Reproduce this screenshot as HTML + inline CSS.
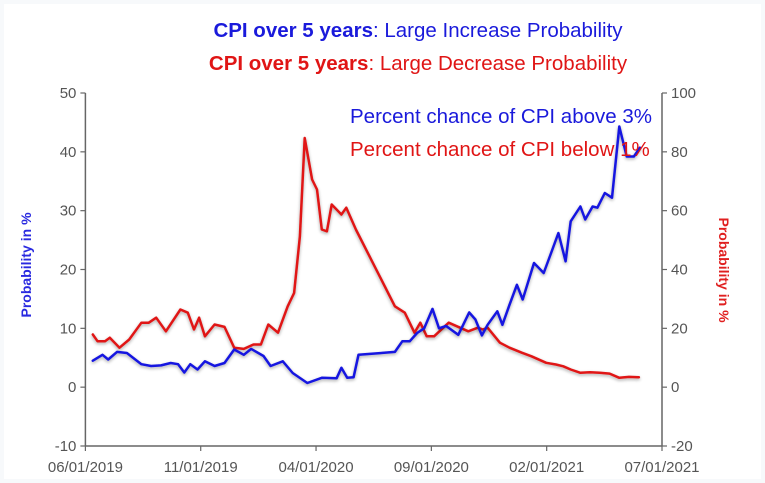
<!DOCTYPE html>
<html><head><meta charset="utf-8"><style>
html,body{margin:0;padding:0;background:#fff;}
svg{display:block;font-family:"Liberation Sans",sans-serif;}
</style></head><body>
<svg id="chart" width="765" height="483" viewBox="0 0 765 483">
<defs><filter id="glow" x="-5%" y="-5%" width="110%" height="110%"><feGaussianBlur in="SourceAlpha" stdDeviation="1.5"/><feOffset dx="0" dy="1.5"/><feComponentTransfer><feFuncA type="linear" slope="0.35"/></feComponentTransfer><feMerge><feMergeNode/><feMergeNode in="SourceGraphic"/></feMerge></filter></defs>
<rect x="0" y="0" width="765" height="483" fill="#f7f9fb"/>
<rect x="4" y="4" width="757" height="475" fill="#fff"/>
<text x="418" y="37" text-anchor="middle" font-size="20.5" fill="#1a1adb"><tspan font-weight="bold">CPI over 5 years</tspan>: Large Increase Probability</text>
<text x="418" y="70" text-anchor="middle" font-size="20.5" fill="#e01515"><tspan font-weight="bold">CPI over 5 years</tspan>: Large Decrease Probability</text>
<g id="axes"></g>
<g id="series"></g>
<text x="350" y="123" font-size="20.5" fill="#1a1adb">Percent chance of CPI above 3%</text>
<text x="350" y="156" font-size="20.5" fill="#e01515">Percent chance of CPI below 1%</text>
<text transform="translate(31,265) rotate(-90)" text-anchor="middle" font-size="14" font-weight="bold" fill="#2a2ae0">Probability in %</text>
<text transform="translate(719,270) rotate(90)" text-anchor="middle" font-size="14" font-weight="bold" fill="#e02020">Probability in %</text>
</svg>
<script>
const leftTicks=[-10,0,10,20,30,40,50];
const rightTicks=[-20,0,20,40,60,80,100];
const xTickMonths=[0,5,10,15,20,25];
const xTickLabels=["06/01/2019","11/01/2019","04/01/2020","09/01/2020","02/01/2021","07/01/2021"];
const blueMonths=[0.32,0.74,0.99,1.37,1.80,2.43,2.85,3.28,3.70,4.02,4.29,4.55,4.86,5.18,5.60,6.03,6.45,6.87,7.19,7.72,8.03,8.56,8.99,9.62,10.25,10.89,11.10,11.35,11.63,11.84,13.42,13.74,14.06,14.38,14.69,15.05,15.33,15.64,16.17,16.64,16.91,17.19,17.44,17.86,18.08,18.39,18.71,18.96,19.45,19.87,20.19,20.51,20.82,21.04,21.46,21.67,21.99,22.20,22.52,22.83,23.15,23.47,23.78,24.04];
const blueValues=[4.5,5.5,4.7,6,5.8,3.9,3.6,3.7,4.1,3.9,2.5,3.9,3.0,4.4,3.6,4.1,6.4,5.5,6.5,5.3,3.6,4.4,2.4,0.7,1.6,1.5,3.3,1.6,1.7,5.5,6.0,7.8,7.8,9.2,10,13.3,10,10.4,8.9,12.7,11.5,8.8,10.6,12.9,10.6,14,17.4,14.9,21.1,19.4,22.8,26.2,21.4,28.2,30.7,28.5,30.7,30.5,33,32.2,44.3,39.2,39.2,40.7];
const redMonths=[0.32,0.53,0.85,1.06,1.48,1.90,2.43,2.75,3.07,3.49,4.12,4.44,4.71,4.93,5.18,5.60,6.03,6.45,6.87,7.29,7.61,7.93,8.35,8.77,9.05,9.30,9.51,9.83,10.04,10.25,10.47,10.68,11.10,11.31,11.73,13.42,13.85,14.27,14.52,14.80,15.12,15.75,16.60,17.02,17.23,17.44,17.97,18.39,18.92,19.34,19.98,20.40,20.72,21.04,21.46,21.88,22.30,22.73,23.15,23.57,24.00];
const redValues=[17.9,15.6,15.6,16.8,13.4,16.2,21.9,21.9,23.6,19,26.4,25.3,19.6,23.6,17.3,21.3,20.5,13.4,13,14.5,14.5,21.3,18.5,27.5,32,51.3,84.7,70.6,67.2,53.6,53,62.1,58.7,61,53.6,27.5,25.3,18.5,21.9,17.3,17.3,21.9,19,20.2,19.6,20.2,15.1,13.4,11.7,10.5,8.3,7.7,7.1,6.0,4.9,5.1,4.9,4.6,3.2,3.5,3.4];
const X0=85.4,X1=662,Y0=93,Y1=446;
const xS=m=>X0+(X1-X0)*m/25;
const yL=v=>Y1-(v+10)/60*(Y1-Y0);
const yR=v=>Y1-(v+20)/120*(Y1-Y0);
const NS="http://www.w3.org/2000/svg";
function mk(tag,attrs,parent){const e=document.createElementNS(NS,tag);for(const k in attrs)e.setAttribute(k,attrs[k]);parent.appendChild(e);return e;}
const ax=document.getElementById('axes');
const gray="#666";
let l=mk('line',{x1:X0,y1:Y0,x2:X0,y2:Y1,stroke:gray,'stroke-width':1.5},ax);


l=mk('line',{x1:X1,y1:Y0,x2:X1,y2:Y1,stroke:gray,'stroke-width':1.5},ax);


l=mk('line',{x1:X0,y1:Y1,x2:X1,y2:Y1,stroke:gray,'stroke-width':1.5},ax);


leftTicks.forEach(v=>{const y=yL(v);
 mk('line',{x1:X0-5,y1:y,x2:X0,y2:y,stroke:gray,'stroke-width':1.2},ax);
 const t=mk('text',{x:X0-9,y:y+5,'text-anchor':'end','font-size':15,fill:'#555'},ax);t.textContent=v;
 
 });
rightTicks.forEach(v=>{const y=yR(v);
 mk('line',{x1:X1,y1:y,x2:X1+5,y2:y,stroke:gray,'stroke-width':1.2},ax);
 const t=mk('text',{x:X1+9,y:y+5,'text-anchor':'start','font-size':15,fill:'#555'},ax);t.textContent=v;
 
 });
xTickMonths.forEach((m,i)=>{const x=xS(m);
 mk('line',{x1:x,y1:Y1,x2:x,y2:Y1+5,stroke:gray,'stroke-width':1.2},ax);
 const t=mk('text',{x:x,y:Y1+26,'text-anchor':'middle','font-size':15,fill:'#555'},ax);t.textContent=xTickLabels[i];
 
 });
const sg=document.getElementById('series');
let p=mk('polyline',{points:redMonths.map((m,i)=>xS(m).toFixed(1)+','+yR(redValues[i]).toFixed(1)).join(' '),fill:'none',stroke:'#e01515','stroke-width':2.5,'stroke-linejoin':'round','stroke-linecap':'round',filter:'url(#glow)'},sg);


p=mk('polyline',{points:blueMonths.map((m,i)=>xS(m).toFixed(1)+','+yL(blueValues[i]).toFixed(1)).join(' '),fill:'none',stroke:'#1515e0','stroke-width':2.5,'stroke-linejoin':'round','stroke-linecap':'round',filter:'url(#glow)'},sg);


</script>
</body></html>
